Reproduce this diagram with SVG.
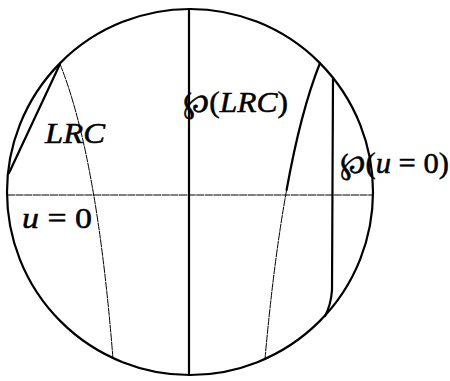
<svg xmlns="http://www.w3.org/2000/svg" width="450" height="381" viewBox="0 0 450 381">
<style>
.thick{fill:none;stroke:#000;stroke-width:2.2;stroke-linecap:round}
.thin{fill:none;stroke:#000;stroke-width:1;stroke-dasharray:8 0.6}
.lbl{font-family:"Liberation Serif",serif;font-size:30px;fill:#000;stroke:#000;stroke-width:0.5}
.it{font-style:italic}
</style>
<rect width="450" height="381" fill="#fff"/>
<g id="disk">
<circle cx="190" cy="192" r="183" class="thick"/>
<line x1="7" y1="195" x2="373" y2="195" class="thin"/>
<line x1="189" y1="9" x2="189" y2="375" class="thick"/>
</g>
<g id="lrc">
<line x1="9" y1="173" x2="60" y2="64" class="thick"/>
<path d="M60,64 Q97,156 113,359" class="thin"/>
</g>
<g id="p-lrc">
<path d="M320,63 Q300.7,111.5 286.6,190" class="thick"/>
<path d="M286.6,190 Q273.6,262 265,359" class="thin"/>
</g>
<g id="p-u0">
<path d="M333,78 L332,290 Q331,305 325,316" class="thick"/>
</g>
<g id="labels">
<text class="lbl it" x="45" y="143" textLength="60" lengthAdjust="spacingAndGlyphs">LRC</text>
<text class="lbl" x="183" y="112" textLength="105" lengthAdjust="spacingAndGlyphs">℘(<tspan class="it">LRC</tspan>)</text>
<text class="lbl" x="22" y="228" textLength="70" lengthAdjust="spacingAndGlyphs"><tspan class="it">u</tspan> = 0</text>
<text class="lbl" x="340" y="173" textLength="109" lengthAdjust="spacingAndGlyphs">℘(<tspan class="it">u</tspan> = 0)</text>
</g>
</svg>
